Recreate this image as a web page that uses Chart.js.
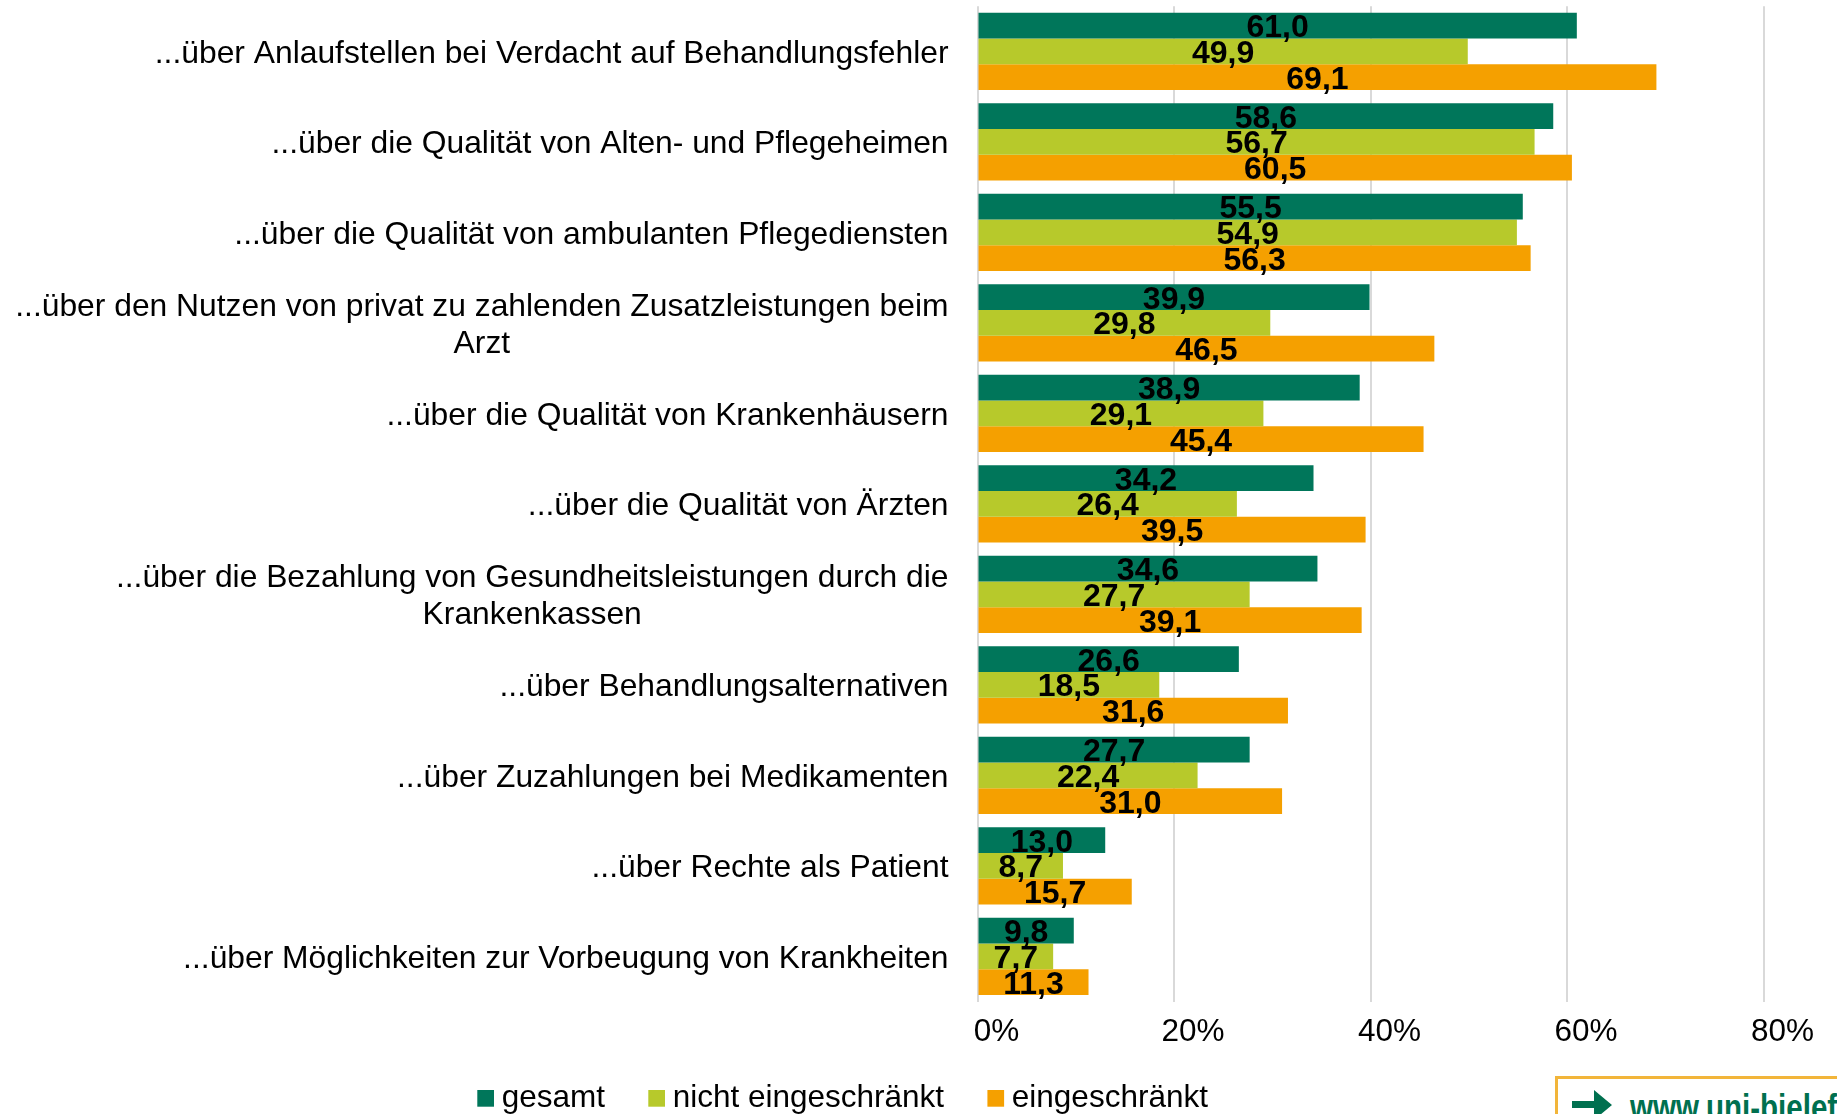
<!DOCTYPE html>
<html>
<head>
<meta charset="utf-8">
<script src="https://cdn.jsdelivr.net/npm/chart.js@4/dist/chart.umd.min.js"></script>
<style>
html,body{margin:0;padding:0;background:#fff;overflow:hidden;width:1837px;height:1114px;}
#wrap{position:relative;width:1837px;height:1114px;overflow:hidden;}
#c{position:absolute;left:0;top:0;}
#logo{position:absolute;left:1555px;top:1076px;width:340px;height:80px;border:3px solid #F2B53A;box-sizing:border-box;background:#fff;}
#logo svg{position:absolute;left:14px;top:8px;}
#logo span{position:absolute;left:72px;top:7px;font-family:"Liberation Sans",Arial,sans-serif;font-weight:bold;font-size:36px;color:#00704F;transform:scaleX(0.82);transform-origin:0 0;white-space:nowrap;line-height:43px;}
</style>
</head>
<body>
<div id="wrap">
<canvas id="c" width="1837" height="1114"></canvas>
<div id="logo">
<svg width="44" height="34" viewBox="0 0 44 34"><polygon points="0,14 22,14 22,3 40,18 22,33 22,21 0,21" fill="#00704F"/></svg>
<span>www.uni-bielefeld.de</span>
</div>
</div>
<script>
const categories = [
  '...über Anlaufstellen bei Verdacht auf Behandlungsfehler',
  '...über die Qualität von Alten- und Pflegeheimen',
  '...über die Qualität von ambulanten Pflegediensten',
  ['...über den Nutzen von privat zu zahlenden Zusatzleistungen beim', 'Arzt'],
  '...über die Qualität von Krankenhäusern',
  '...über die Qualität von Ärzten',
  ['...über die Bezahlung von Gesundheitsleistungen durch die', 'Krankenkassen'],
  '...über Behandlungsalternativen',
  '...über Zuzahlungen bei Medikamenten',
  '...über Rechte als Patient',
  '...über Möglichkeiten zur Vorbeugung von Krankheiten'
];
const seriesNames = ['gesamt', 'nicht eingeschränkt', 'eingeschränkt'];
const gesamt = [61.0, 58.6, 55.5, 39.9, 38.9, 34.2, 34.6, 26.6, 27.7, 13.0, 9.8];
const nichtEingeschraenkt = [49.9, 56.7, 54.9, 29.8, 29.1, 26.4, 27.7, 18.5, 22.4, 8.7, 7.7];
const eingeschraenkt = [69.1, 60.5, 56.3, 46.5, 45.4, 39.5, 39.1, 31.6, 31.0, 15.7, 11.3];
const xTicks = [0, 20, 40, 60, 80];
const seriesColors = ['#00765A', '#B7C92B', '#F5A000'];

const FONT = '"Liberation Sans", Arial, sans-serif';

const categoryLabels = {
  id: 'categoryLabels',
  afterDraw(chart) {
    const ctx = chart.ctx;
    const ys = chart.scales.y;
    const size = 31.8, lh = 36.7;
    const rightX = ys.right - 29;
    ctx.save();
    ctx.font = size + 'px ' + FONT;
    ctx.fillStyle = '#000';
    ctx.textAlign = 'center';
    ctx.textBaseline = 'alphabetic';
    chart.data.labels.forEach((lab, i) => {
      const lines = Array.isArray(lab) ? lab : [lab];
      const yc = ys.getPixelForTick(i);
      const w = Math.max(...lines.map(l => ctx.measureText(l).width));
      const cx = rightX - w / 2;
      const n = lines.length;
      lines.forEach((l, j) => {
        const capCenter = yc + (j - (n - 1) / 2) * lh;
        ctx.fillText(l, cx, capCenter + 0.358 * size);
      });
    });
    ctx.restore();
  }
};

const valueLabels = {
  id: 'valueLabels',
  afterDatasetsDraw(chart) {
    const ctx = chart.ctx;
    const size = 32;
    ctx.save();
    ctx.font = 'bold ' + size + 'px ' + FONT;
    ctx.fillStyle = '#000';
    ctx.textAlign = 'center';
    ctx.textBaseline = 'alphabetic';
    chart.data.datasets.forEach((ds, di) => {
      const meta = chart.getDatasetMeta(di);
      meta.data.forEach((el, i) => {
        const p = el.getProps(['x', 'y', 'base'], true);
        const cx = (p.x + p.base) / 2;
        ctx.fillText(ds.data[i].toFixed(1).replace('.', ','), cx, p.y + 0.358 * size);
      });
    });
    ctx.restore();
  }
};

const customLegend = {
  id: 'customLegend',
  afterDraw(chart) {
    const ctx = chart.ctx;
    const size = 31.5, box = 16.7, gapText = 7.7, gapItem = 43.3;
    const baseline = 1106.7;
    let x = 477.3;
    ctx.save();
    ctx.font = size + 'px ' + FONT;
    ctx.textAlign = 'left';
    ctx.textBaseline = 'alphabetic';
    chart.data.datasets.forEach(ds => {
      ctx.fillStyle = ds.backgroundColor;
      ctx.fillRect(x, baseline - box, box, box);
      ctx.fillStyle = '#000';
      ctx.fillText(ds.label, x + box + gapText, baseline);
      x += box + gapText + ctx.measureText(ds.label).width + gapItem;
    });
    ctx.restore();
  }
};

const seriesData = [gesamt, nichtEingeschraenkt, eingeschraenkt];

new Chart(document.getElementById('c'), {
  type: 'bar',
  data: {
    labels: categories,
    datasets: seriesNames.map((name, k) => ({
      label: name,
      data: seriesData[k],
      backgroundColor: seriesColors[k],
      borderWidth: 0,
      barPercentage: 1.0,
      categoryPercentage: 0.855
    }))
  },
  options: {
    indexAxis: 'y',
    responsive: false,
    animation: false,
    devicePixelRatio: 1,
    layout: { padding: { left: 0, right: 73.5, top: 6.15, bottom: 52.35 } },
    plugins: { legend: { display: false }, tooltip: { enabled: false } },
    scales: {
      x: {
        min: 0, max: 80,
        position: 'bottom',
        afterBuildTicks: s => { s.ticks = xTicks.map(v => ({ value: v })); },
        afterFit: s => { s.height = 60; },
        grid: { color: '#D9D9D9', lineWidth: 2, drawTicks: false },
        border: { display: false },
        ticks: {
          padding: 11.5, labelOffset: 19, color: '#000',
          font: { family: FONT, size: 31.5 },
          maxRotation: 0, autoSkip: false,
          callback: v => v + '%'
        }
      },
      y: {
        afterFit: s => { s.width = 977.5; },
        grid: { display: false },
        border: { display: false },
        ticks: { display: false }
      }
    }
  },
  plugins: [valueLabels, categoryLabels, customLegend]
});
</script>
</body>
</html>
